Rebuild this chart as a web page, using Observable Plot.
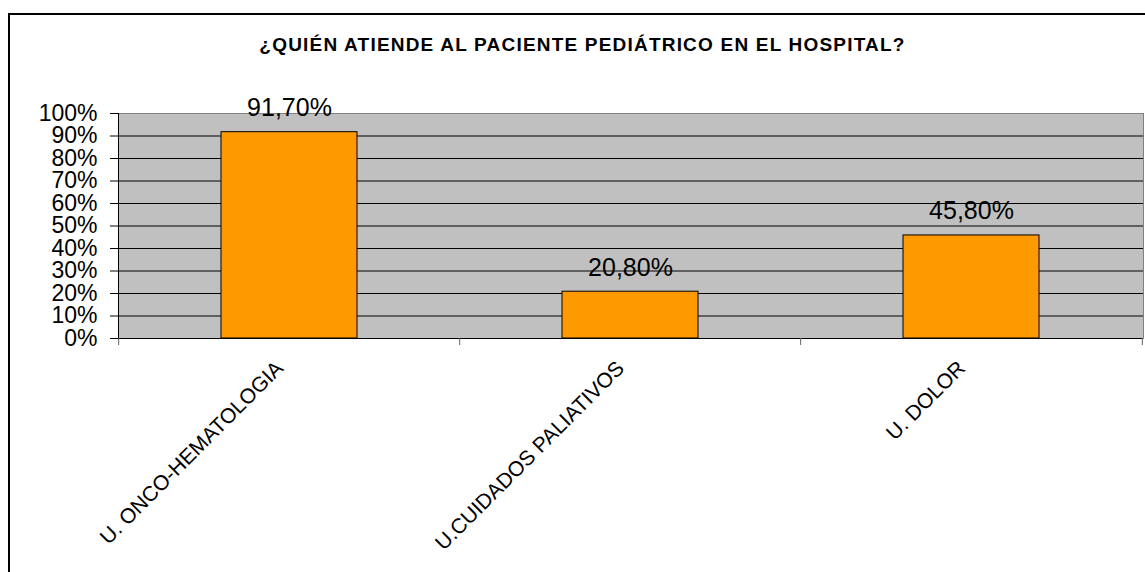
<!DOCTYPE html>
<html>
<head>
<meta charset="utf-8">
<script src="https://cdn.jsdelivr.net/npm/d3@7"></script>
<script src="https://cdn.jsdelivr.net/npm/@observablehq/plot@0.6"></script>
<style>
  html, body { margin: 0; padding: 0; background: #fff; }
  #wrap { position: relative; width: 1145px; height: 572px; overflow: hidden; font-family: "Liberation Sans", Arial, sans-serif; }
  #border { position: absolute; left: 8px; top: 13px; width: 2000px; height: 2000px; border-left: 2px solid #000; border-top: 2px solid #000; pointer-events: none; }
  #title { position: relative; height: 24px; padding-top: 36px; width: 1165px; text-align: center; font-weight: bold; font-size: 19px; line-height: 18px; letter-spacing: 1.2px; color: #000; }
  svg { display: block; }
</style>
</head>
<body>
<div id="wrap">
  <div id="border"></div>
  <div id="title">¿QUIÉN ATIENDE AL PACIENTE PEDIÁTRICO EN EL HOSPITAL?</div>
  <div id="chart"></div>
</div>
<script>
const categories = ["U. ONCO-HEMATOLOGIA", "U.CUIDADOS PALIATIVOS", "U. DOLOR"];
const values = [0.917, 0.208, 0.458];
const yTicks = [0, 0.1, 0.2, 0.3, 0.4, 0.5, 0.6, 0.7, 0.8, 0.9, 1];
const gridTicks = [0.1, 0.2, 0.3, 0.4, 0.5, 0.6, 0.7, 0.8, 0.9];

const data = categories.map((c, i) => ({cat: c, value: values[i]}));
const fmt = v => (v * 100).toFixed(2).replace(".", ",") + "%";

const W = 1145, H = 512, mL = 118, mR = 2, mT = 53, mB = 234;
const step = (W - mL - mR) / categories.length;
const plotH = H - mT - mB;
const font = "Liberation Sans, Arial, sans-serif";

const chart = Plot.plot({
  width: W,
  height: H,
  marginLeft: mL,
  marginRight: mR,
  marginTop: mT,
  marginBottom: mB,
  style: {fontFamily: font, color: "#000", background: "transparent", overflow: "visible"},
  x: {type: "band", domain: categories, paddingInner: 0.6, paddingOuter: 0.3, axis: null},
  y: {domain: [0, 1], axis: null},
  marks: [
    Plot.frame({fill: "#c0c0c0", stroke: "#808080", strokeWidth: 1}),
    Plot.gridY(gridTicks, {stroke: "#000", strokeOpacity: 1, strokeWidth: 1}),
    Plot.barY(data, {x: "cat", y: "value", fill: "#FF9900", stroke: "#000", strokeWidth: 1}),
    Plot.ruleY([0], {stroke: "#000", strokeWidth: 1}),
    Plot.axisY(yTicks, {
      label: null,
      tickSize: 8, tickPadding: 13, tickFormat: d => Math.round(d * 100) + "%",
      fontSize: 23, stroke: "#000", fill: "#000"
    }),
    Plot.frame({anchor: "left", stroke: "#000", strokeWidth: 1}),
    Plot.ruleX(categories, {x: d => d, dx: -step / 2, insetTop: plotH, insetBottom: -7, stroke: "#606060"}),
    Plot.ruleX([categories[categories.length - 1]], {x: d => d, dx: step / 2, insetTop: plotH, insetBottom: -7, stroke: "#606060"}),
    Plot.text(data, {x: "cat", y: "value", text: d => fmt(d.value), dy: -16, lineAnchor: "bottom", fontSize: 25, fill: "#000"}),
    Plot.text(data, {x: "cat", frameAnchor: "bottom", text: "cat", rotate: -45, textAnchor: "end", lineAnchor: "bottom", dx: -5, dy: 31, fontSize: 21, fill: "#000"})
  ]
});
document.getElementById("chart").appendChild(chart);
</script>
</body>
</html>
